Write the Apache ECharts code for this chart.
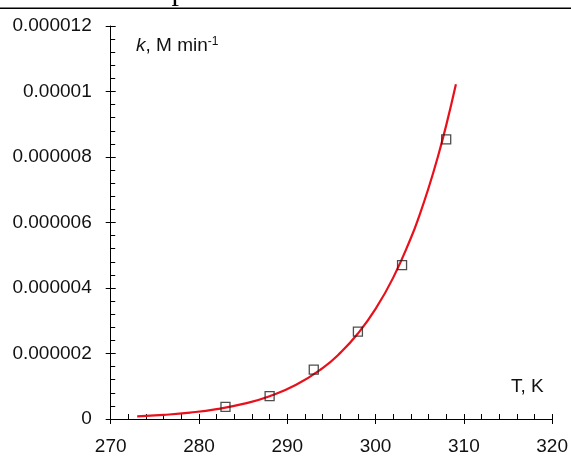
<!DOCTYPE html>
<html>
<head>
<meta charset="utf-8">
<script src="https://cdn.jsdelivr.net/npm/echarts@6/dist/echarts.min.js"></script>
<style>
  html, body { margin: 0; padding: 0; background: #fff; }
  #chart { width: 571px; height: 456px; }
</style>
</head>
<body>
<div id="chart"></div>
<script>
// Measured rate constants (M min^-1) at each temperature (K)
const tempK = [283, 288, 293, 298, 303, 308];
const rateK = [0.37e-6, 0.70e-6, 1.51e-6, 2.67e-6, 4.70e-6, 8.54e-6];

// Fitted Arrhenius curve, sampled points
const fitT = [273, 276, 279, 282, 285, 288, 291, 294, 296, 298, 300, 302, 304, 305, 306, 307, 308, 309.1];
const fitK = [0.080e-6, 0.126e-6, 0.196e-6, 0.302e-6, 0.461e-6, 0.695e-6, 1.045e-6, 1.556e-6, 2.018e-6,
              2.609e-6, 3.362e-6, 4.317e-6, 5.526e-6, 6.244e-6, 7.051e-6, 7.953e-6, 8.966e-6, 10.22e-6];

// Axis tick labels
const xTickLabels = ['270', '280', '290', '300', '310', '320'];
const yTickLabels = ['0', '0.000002', '0.000004', '0.000006', '0.000008', '0.00001', '0.000012'];

const FONT = 'Liberation Sans, Arial, sans-serif';
const INK = '#111';

const chart = echarts.init(document.getElementById('chart'), null, { renderer: 'canvas' });

const axisLineStyle = { color: '#000', width: 1 };

chart.setOption({
  animation: false,
  backgroundColor: '#fff',
  grid: { left: 110.7, right: 16.7, top: 26, bottom: 32.7, containLabel: false },
  xAxis: [
    {
      type: 'value', position: 'bottom', min: 270, max: 320, interval: 10,
      axisLine: { show: true, onZero: false, lineStyle: axisLineStyle },
      axisTick: { show: true, inside: true, length: 5, lineStyle: axisLineStyle },
      minorTick: { show: true, splitNumber: 5, length: 5, lineStyle: axisLineStyle },
      splitLine: { show: false },
      axisLabel: {
        margin: 18, color: INK, fontFamily: FONT, fontSize: 19,
        formatter: v => xTickLabels[Math.round((v - 270) / 10)]
      }
    },
    {
      // outer half of the major ticks
      type: 'value', position: 'bottom', min: 270, max: 320, interval: 10,
      axisLine: { show: false },
      axisTick: { show: true, inside: false, length: 5, lineStyle: axisLineStyle },
      splitLine: { show: false },
      axisLabel: { show: false }
    }
  ],
  yAxis: [
    {
      type: 'value', position: 'left', min: 0, max: 12e-6, interval: 2e-6,
      axisLine: { show: true, onZero: false, lineStyle: axisLineStyle },
      axisTick: { show: true, inside: true, length: 5, lineStyle: axisLineStyle },
      minorTick: { show: true, splitNumber: 5, length: 4.5, lineStyle: axisLineStyle },
      splitLine: { show: false },
      axisLabel: {
        margin: 19, color: INK, fontFamily: FONT, fontSize: 19,
        formatter: v => yTickLabels[Math.round(v / 2e-6)]
      }
    },
    {
      type: 'value', position: 'left', min: 0, max: 12e-6, interval: 2e-6,
      axisLine: { show: false },
      axisTick: { show: true, inside: false, length: 5, lineStyle: axisLineStyle },
      splitLine: { show: false },
      axisLabel: { show: false }
    }
  ],
  series: [
    {
      type: 'line',
      xAxisIndex: 0, yAxisIndex: 0,
      data: fitT.map((t, i) => [t, fitK[i]]),
      smooth: true,
      showSymbol: false,
      lineStyle: { color: '#e8101a', width: 2.2 },
      z: 2
    },
    {
      type: 'scatter',
      xAxisIndex: 0, yAxisIndex: 0,
      data: tempK.map((t, i) => [t, rateK[i]]),
      symbol: 'rect',
      symbolSize: 9,
      itemStyle: { color: 'rgba(255,255,255,0)', borderColor: '#222', borderWidth: 1.3 },
      z: 3
    }
  ],
  graphic: [
    // rule and caption fragment along the top edge
    {
      type: 'line', shape: { x1: 0, y1: 8.3, x2: 571, y2: 8.3 },
      style: { stroke: '#000', lineWidth: 1.6 }
    },
    {
      type: 'text', x: 179, y: -8,
      style: { text: 'p', font: '30px "Liberation Serif", "Times New Roman", serif', fill: '#000',
               align: 'center', verticalAlign: 'middle' }
    },
    {
      type: 'text', x: 136, y: 46,
      style: {
        text: '{i|k}{n|, M min}{s|-1}',
        verticalAlign: 'middle',
        rich: {
          i: { fontFamily: FONT, fontSize: 19, fontStyle: 'italic', fill: INK },
          n: { fontFamily: FONT, fontSize: 19, fill: INK },
          s: { fontFamily: FONT, fontSize: 12, fill: INK, verticalAlign: 'top', padding: [0, 0, 9, 0] }
        }
      }
    },
    {
      type: 'text', x: 511, y: 387,
      style: { text: 'T, K', font: '19px ' + FONT, fill: INK, verticalAlign: 'middle' }
    }
  ]
});
</script>
</body>
</html>
